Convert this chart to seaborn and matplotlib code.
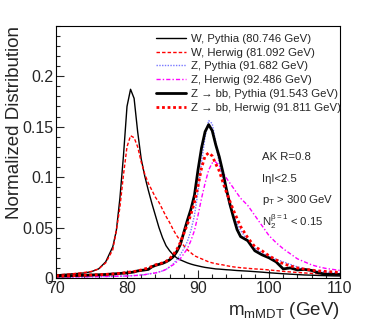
import matplotlib
matplotlib.use("Agg")
import matplotlib.pyplot as plt
import seaborn as sns
import numpy as np
import pandas as pd
from matplotlib.ticker import MultipleLocator, FixedLocator

# ---------------- data ----------------
mass = [70, 71, 72, 73, 74, 75, 76, 77,
        78, 78.5, 79, 79.5, 80, 80.5, 81, 81.5, 82, 82.5, 83, 83.5, 84, 84.5,
        85, 85.5, 86, 86.5, 87, 87.5, 88, 88.5, 89, 89.5, 90, 90.5, 91, 91.5,
        92, 92.5, 93, 93.5, 94, 94.5, 95, 95.5, 96,
        97, 98, 99, 100, 101, 102, 103, 104, 105, 106, 107, 108, 109, 110]

w_pythia = [0.003, 0.0035, 0.004, 0.0045, 0.005, 0.0063, 0.009, 0.016,
            0.031, 0.047, 0.079, 0.121, 0.170, 0.187, 0.178, 0.145, 0.118, 0.101, 0.087, 0.074, 0.062, 0.050,
            0.040, 0.032, 0.027, 0.023, 0.020, 0.018, 0.0165, 0.015, 0.0138, 0.0128, 0.012, 0.0112, 0.0105, 0.010,
            0.0095, 0.009, 0.0088, 0.0085, 0.0082, 0.008, 0.0077, 0.0074, 0.0072,
            0.0068, 0.0063, 0.0058, 0.0052, 0.0047, 0.0042, 0.0038, 0.0034, 0.003, 0.0028, 0.0025, 0.0023, 0.0021, 0.002]

w_herwig = [0.003, 0.0035, 0.004, 0.0047, 0.0055, 0.0065, 0.009, 0.015,
            0.028, 0.047, 0.070, 0.102, 0.130, 0.141, 0.139, 0.130, 0.115, 0.103, 0.094, 0.087, 0.080, 0.075,
            0.068, 0.061, 0.055, 0.048, 0.042, 0.037, 0.032, 0.028, 0.025, 0.022, 0.0205, 0.019, 0.0175, 0.016,
            0.015, 0.0142, 0.0135, 0.013, 0.0122, 0.0116, 0.011, 0.0106, 0.0102,
            0.0096, 0.009, 0.0086, 0.008, 0.0073, 0.0066, 0.006, 0.0055, 0.005, 0.0046, 0.0042, 0.0038, 0.0035, 0.0033]

z_pythia = [0.001, 0.001, 0.001, 0.0012, 0.0012, 0.0013, 0.0014, 0.0015,
            0.0016, 0.0017, 0.0018, 0.0019, 0.002, 0.0022, 0.0024, 0.0026, 0.003, 0.0033, 0.004, 0.0045, 0.005, 0.006,
            0.007, 0.0085, 0.011, 0.014, 0.018, 0.023, 0.029, 0.036, 0.047, 0.062, 0.085, 0.115, 0.140, 0.156,
            0.153, 0.134, 0.113, 0.098, 0.084, 0.071, 0.062, 0.054, 0.047,
            0.037, 0.030, 0.025, 0.0215, 0.0185, 0.016, 0.0135, 0.011, 0.009, 0.0078, 0.0068, 0.006, 0.0052, 0.0047]

z_herwig = [0.001, 0.001, 0.001, 0.0012, 0.0012, 0.0013, 0.0014, 0.0015,
            0.0016, 0.0017, 0.0018, 0.0019, 0.002, 0.0022, 0.0024, 0.0026, 0.003, 0.0033, 0.004, 0.0045, 0.005, 0.006,
            0.007, 0.0085, 0.011, 0.013, 0.016, 0.019, 0.024, 0.029, 0.037, 0.047, 0.062, 0.079, 0.094, 0.107,
            0.114, 0.115, 0.111, 0.105, 0.099, 0.094, 0.089, 0.084, 0.079,
            0.072, 0.062, 0.052, 0.042, 0.035, 0.029, 0.024, 0.019, 0.016, 0.013, 0.011, 0.0095, 0.0085, 0.0075]

zbb_pythia = [0.002, 0.002, 0.0022, 0.0025, 0.0027, 0.003, 0.0032, 0.0035,
              0.004, 0.0042, 0.0045, 0.0048, 0.005, 0.0055, 0.006, 0.007, 0.0075, 0.008, 0.0085, 0.011, 0.0125, 0.0135,
              0.0145, 0.016, 0.018, 0.021, 0.026, 0.033, 0.045, 0.057, 0.068, 0.082, 0.107, 0.129, 0.145, 0.152,
              0.146, 0.132, 0.120, 0.105, 0.088, 0.073, 0.060, 0.048, 0.041,
              0.037, 0.027, 0.023, 0.020, 0.016, 0.009, 0.010, 0.008, 0.0085, 0.0075, 0.005, 0.0038, 0.0036, 0.0035]

zbb_herwig = [0.002, 0.002, 0.0022, 0.0025, 0.0028, 0.003, 0.0033, 0.0036,
              0.004, 0.0043, 0.0046, 0.005, 0.0055, 0.006, 0.0065, 0.007, 0.008, 0.009, 0.010, 0.0115, 0.013, 0.014,
              0.015, 0.0165, 0.019, 0.023, 0.028, 0.035, 0.044, 0.053, 0.063, 0.075, 0.091, 0.109, 0.121, 0.124,
              0.121, 0.113, 0.106, 0.095, 0.085, 0.076, 0.067, 0.059, 0.051,
              0.040, 0.031, 0.027, 0.022, 0.018, 0.014, 0.012, 0.010, 0.0088, 0.0078, 0.007, 0.0065, 0.006, 0.0055]

labels = ["W, Pythia (80.746 GeV)", "W, Herwig (81.092 GeV)",
          "Z, Pythia (91.682 GeV)", "Z, Herwig (92.486 GeV)",
          "Z \u2192 bb, Pythia (91.543 GeV)", "Z \u2192 bb, Herwig (91.811 GeV)"]
series = [w_pythia, w_herwig, z_pythia, z_herwig, zbb_pythia, zbb_herwig]

xticks = [70, 80, 90, 100, 110]
yticks = [0, 0.05, 0.1, 0.15, 0.2]
yticklabels = ["0", "0.05", "0.1", "0.15", "0.2"]

# ---------------- style ----------------
sns.set_theme(style="ticks")
plt.rcParams['font.family'] = ['Liberation Sans', 'DejaVu Sans']
plt.rcParams['mathtext.fontset'] = 'custom'
plt.rcParams['mathtext.rm'] = 'Liberation Sans'
plt.rcParams['mathtext.it'] = 'Liberation Sans'

styles = [
    dict(color="black", lw=1.0, ls="-"),
    dict(color="red", lw=1.0, ls=(0, (2.5, 1.5))),
    dict(color="#7878ff", lw=1.0, ls=(0, (1, 1))),
    dict(color="#ff00ff", lw=1.0, ls=(0, (3, 1.5, 1, 1.5))),
    dict(color="black", lw=2.0, ls="-"),
    dict(color="red", lw=2.0, ls=(0, (1, 1))),
]

fig = plt.figure(figsize=(3.74, 3.28), dpi=100)
ax = fig.add_axes([56/374, 50/328, (340-56)/374, (278-25.7)/328])

for vals, lab, st in zip(series, labels, styles):
    df = pd.DataFrame({"m": mass, "v": vals})
    sns.lineplot(data=df, x="m", y="v", ax=ax, label=lab, color=st["color"],
                 linewidth=st["lw"], linestyle=st["ls"], estimator=None)

ax.set_xlim(70, 110)
ax.set_ylim(0, 0.25)
ax.xaxis.set_major_locator(FixedLocator(xticks))
ax.xaxis.set_minor_locator(MultipleLocator(2))
ax.yaxis.set_major_locator(FixedLocator(yticks))
ax.set_yticklabels(yticklabels)
ax.yaxis.set_minor_locator(MultipleLocator(0.01))
ax.tick_params(which="both", direction="in", top=False, right=False, labelsize=11.5, pad=2)
ax.tick_params(which="major", length=6, width=0.8)
ax.tick_params(which="minor", length=3, width=0.8)
for s in ax.spines.values():
    s.set_linewidth(0.8)
    s.set_color("black")

ax.set_xlabel(r"m$_{\mathrm{mMDT}}$ (GeV)", fontsize=13.5, loc="right", labelpad=3)
ax.set_ylabel("Normalized Distribution", fontsize=13.5, loc="top")
ax.yaxis.set_label_coords(-0.115, 1.0)

leg = ax.legend(loc="upper left", bbox_to_anchor=(0.352, 0.968), frameon=False,
                fontsize=8.2, handlelength=2.6, handletextpad=0.5, labelspacing=0.33,
                borderaxespad=0, borderpad=0)

ax.text(0.725, 0.467, "AK R=0.8", transform=ax.transAxes, fontsize=8.2)
ax.text(0.725, 0.382, "I\u03b7I<2.5", transform=ax.transAxes, fontsize=8.2)
ax.text(0.725, 0.297, r"p$_{\mathrm{T}}$ > 300 GeV", transform=ax.transAxes, fontsize=8.2)
ax.text(0.725, 0.207, r"N$_2^{\beta=1}$ < 0.15", transform=ax.transAxes, fontsize=8.2)

fig.savefig("out.png", dpi=100)
